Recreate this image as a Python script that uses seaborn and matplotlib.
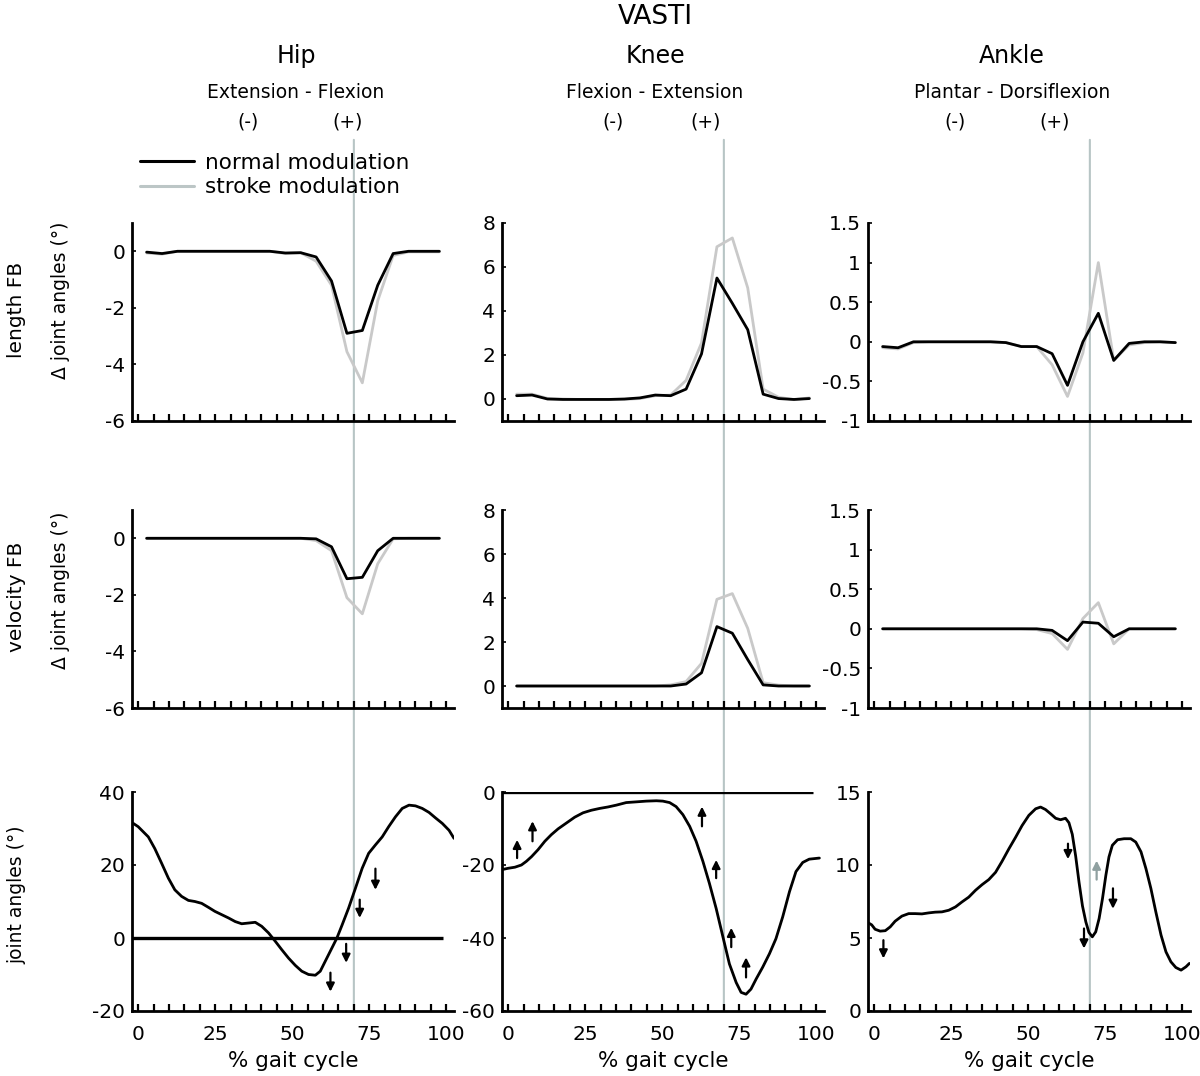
import matplotlib
matplotlib.use("Agg")
import matplotlib.pyplot as plt
import seaborn as sns
from matplotlib.patches import ConnectionPatch
from matplotlib.lines import Line2D
from matplotlib.ticker import FuncFormatter, FixedLocator

# ---- data ---------------------------------------------------------------
# bin centres of the feedback modulation (% gait cycle)
FB_PCT = [2.75, 7.75, 12.75, 17.75, 22.75, 27.75, 32.75, 37.75, 42.75, 47.75,
          52.75, 57.75, 62.75, 67.75, 72.75, 77.75, 82.75, 87.75, 92.75, 97.75]

HIP_LEN_NORMAL = [-0.03, -0.08, 0, 0, 0, 0, 0, 0, 0, -0.06,
                  -0.05, -0.2, -1.05, -2.9, -2.8, -1.2, -0.08, 0, 0, 0]
HIP_LEN_STROKE = [-0.06, -0.1, 0, 0, 0, 0, 0, 0, 0, -0.08,
                  -0.05, -0.35, -1.2, -3.55, -4.65, -1.75, -0.15, -0.02, -0.02, -0.02]
KNEE_LEN_NORMAL = [0.15, 0.18, 0.0, -0.02, -0.02, -0.02, -0.02, 0.0, 0.05, 0.18,
                   0.15, 0.45, 2.05, 5.5, 4.35, 3.15, 0.22, 0.02, -0.02, 0.02]
KNEE_LEN_STROKE = [0.22, 0.22, 0.03, 0, -0.02, -0.02, -0.02, -0.02, 0.02, 0.15,
                   0.18, 0.85, 2.55, 6.92, 7.32, 5.05, 0.45, 0.08, -0.03, 0.05]
ANKLE_LEN_NORMAL = [-0.06, -0.075, 0, 0, 0, 0, 0, 0, -0.01, -0.06,
                    -0.06, -0.15, -0.55, 0.0, 0.36, -0.235, -0.02, 0, 0, -0.01]
ANKLE_LEN_STROKE = [-0.075, -0.09, -0.01, 0, 0, 0, 0, 0, -0.01, -0.06,
                    -0.06, -0.29, -0.69, -0.14, 1.0, -0.235, -0.04, -0.01, 0, -0.01]

HIP_VEL_NORMAL = [0, 0, 0, 0, 0, 0, 0, 0, 0, 0,
                  0, -0.02, -0.3, -1.43, -1.38, -0.44, 0, 0, 0, 0]
HIP_VEL_STROKE = [0, 0, 0, 0, 0, 0, 0, 0, 0, 0,
                  0, -0.08, -0.44, -2.1, -2.67, -0.9, -0.02, 0, 0, 0]
KNEE_VEL_NORMAL = [0, 0, 0, 0, 0, 0, 0, 0, 0, 0,
                   0, 0.09, 0.6, 2.7, 2.4, 1.2, 0.05, 0, 0, 0]
KNEE_VEL_STROKE = [0, 0, 0, 0, 0, 0, 0, 0, 0, 0,
                   0.05, 0.2, 1.03, 3.94, 4.2, 2.62, 0.15, 0.04, 0, 0]
ANKLE_VEL_NORMAL = [0, 0, 0, 0, 0, 0, 0, 0, 0, 0,
                    0, -0.02, -0.15, 0.085, 0.07, -0.1, 0, 0, 0, 0]
ANKLE_VEL_STROKE = [0, 0, 0, 0, 0, 0, 0, 0, 0, 0,
                    -0.01, -0.06, -0.26, 0.13, 0.33, -0.19, 0, 0, 0, 0]

# joint angle trajectories
HIP_PCT = [-1.6, 0, 3.3, 5.4, 7.6, 9.8, 11.9, 14.1, 16.3, 18.4, 20.6, 22.8, 24.9,
           27.1, 29.3, 31.5, 33.6, 35.8, 38.0, 40.1, 42.3, 44.5, 46.6, 48.8, 51.0,
           53.1, 55.3, 57.5, 59.1, 60.7, 62.9, 64.5, 66.2, 68.3, 70.5, 72.7, 74.8,
           77.0, 79.2, 81.3, 83.5, 85.7, 87.9, 90.0, 92.2, 94.4, 96.5, 98.7, 100.9, 102.5]
HIP_ANGLE = [31.4, 30.5, 27.7, 24.5, 20.5, 16.4, 13.2, 11.4, 10.3, 10.0, 9.5, 8.4, 7.3,
             6.4, 5.5, 4.5, 3.9, 4.1, 4.3, 3.2, 1.4, -0.9, -3.2, -5.5, -7.5,
             -9.1, -10.0, -10.2, -9.1, -6.4, -2.7, 0.0, 3.6, 8.2, 13.6, 19.1, 23.2,
             25.5, 27.7, 30.5, 33.2, 35.5, 36.4, 36.2, 35.5, 34.4, 32.9, 31.4, 29.5, 27.3]

KNEE_PCT = [-2.2, 0, 2.2, 4.3, 5.9, 7.6, 9.7, 11.9, 14.0, 16.2, 18.9, 21.6, 24.3,
            27.0, 29.7, 32.4, 35.1, 38.3, 41.6, 44.8, 48.1, 50.2, 52.4, 54.5, 56.7,
            58.9, 61.0, 63.2, 65.3, 67.5, 69.7, 71.8, 74.0, 75.6, 77.2, 78.8, 80.5,
            82.6, 84.8, 86.9, 89.1, 91.3, 93.4, 95.6, 97.7, 101.0]
KNEE_ANGLE = [-21.3, -20.9, -20.6, -20.0, -19.0, -17.7, -15.8, -13.5, -11.7, -10.1, -8.5,
              -6.9, -5.7, -5.0, -4.5, -4.1, -3.6, -2.9, -2.7, -2.5, -2.4, -2.5, -2.9,
              -4.0, -6.2, -9.4, -13.5, -19.0, -25.0, -31.9, -39.7, -47.1, -52.2, -54.9,
              -55.4, -54.0, -51.2, -48.0, -44.3, -40.2, -34.2, -27.3, -21.8, -19.3,
              -18.4, -18.1]

ANKLE_PCT = [-2.4, -0.8, 0.3, 1.95, 3.6, 5.2, 6.8, 9.0, 11.2, 13.3, 15.5, 17.7, 19.8,
             22.0, 24.2, 26.4, 28.5, 30.7, 32.9, 35.0, 37.2, 39.4, 41.5, 43.7, 45.9,
             48.0, 50.2, 52.4, 54.0, 55.6, 57.3, 58.9, 60.5, 62.1, 63.2, 64.3, 65.4,
             66.5, 67.6, 68.7, 69.7, 70.8, 71.9, 73.0, 74.1, 75.2, 76.2, 77.3, 79.0,
             81.1, 83.3, 84.9, 86.6, 88.2, 89.8, 91.4, 93.1, 94.7, 96.3, 97.9, 99.6,
             101.2, 102.3]
ANKLE_ANGLE = [6.1, 5.9, 5.6, 5.47, 5.5, 5.76, 6.15, 6.5, 6.67, 6.67, 6.65, 6.72, 6.77,
               6.79, 6.9, 7.13, 7.47, 7.8, 8.27, 8.65, 9.0, 9.5, 10.25, 11.1, 11.9,
               12.7, 13.4, 13.85, 13.97, 13.8, 13.5, 13.2, 13.1, 13.2, 12.9, 12.1, 10.6,
               8.8, 7.2, 6.1, 5.38, 5.08, 5.42, 6.33, 7.7, 9.3, 10.55, 11.35, 11.73,
               11.8, 11.8, 11.57, 10.9, 9.75, 8.4, 6.8, 5.2, 4.05, 3.37, 2.98, 2.8,
               3.03, 3.26]

# arrows marking where the modulation acts (x, tail, head)
HIP_ARROW_X = [62.4, 67.5, 71.9, 77.0]
HIP_ARROW_TAIL = [-9.5, -1.6, 10.5, 19.0]
HIP_ARROW_HEAD = [-14.7, -6.8, 5.5, 13.2]
KNEE_ARROW_X = [2.9, 7.9, 62.9, 67.5, 72.4, 77.2]
KNEE_ARROW_TAIL = [-18.1, -13.5, -9.4, -23.6, -42.5, -50.8]
KNEE_ARROW_HEAD = [-13.1, -8.0, -4.0, -18.6, -37.2, -45.3]
ANKLE_ARROW_X = [3.0, 62.9, 68.1, 72.2, 77.5]
ANKLE_ARROW_TAIL = [4.85, 11.46, 5.65, 9.0, 8.4]
ANKLE_ARROW_HEAD = [3.6, 10.4, 4.28, 10.3, 7.0]
ANKLE_ARROW_GREY = [False, False, False, True, False]

TOE_OFF = 70
JOINTS = ["Hip", "Knee", "Ankle"]
DIRECTIONS = ["Extension - Flexion", "Flexion - Extension", "Plantar - Dorsiflexion"]
LEGEND_LABELS = ["normal modulation", "stroke modulation"]

FB_YLIM = [(-6, 1), (-1, 8), (-1, 1.5)]
FB_YTICKS = [[-6, -4, -2, 0], [0, 2, 4, 6, 8], [-1, -0.5, 0, 0.5, 1, 1.5]]
ANG_YLIM = [(-20, 40), (-60, 0), (0, 15)]
ANG_YTICKS = [[-20, 0, 20, 40], [-60, -40, -20, 0], [0, 5, 10, 15]]
X_MAJOR = [0, 25, 50, 75, 100]
X_MINOR = [5, 10, 15, 20, 30, 35, 40, 45, 55, 60, 65, 70, 80, 85, 90, 95]

# ---- style ---------------------------------------------------------------
sns.set_style("ticks")
plt.rcParams["font.family"] = ["DejaVu Sans"]
plt.rcParams["axes.unicode_minus"] = False
for key in ("text.color", "axes.labelcolor", "xtick.color", "ytick.color", "axes.edgecolor"):
    plt.rcParams[key] = "black"

BLACK = "#000000"
STROKE = "#c9c9c9"
STROKE_LEG = "#bcc6c6"
VLINE = "#b7c5c5"

W, H = 1200, 1076
fig = plt.figure(figsize=(W / 100, H / 100), dpi=100)
fig.patch.set_facecolor("white")


def add_ax(left, top, right, bottom):
    ax = fig.add_axes([left / W, 1 - bottom / H, (right - left) / W, (bottom - top) / H])
    ax.patch.set_alpha(0)
    return ax


COLS = [(132, 454), (502, 824), (868, 1190)]
ROWS = [(223, 421), (510, 708), (792, 1011)]
fmt = FuncFormatter(lambda v, p: f"{v:g}")


def style_ax(ax, ylim, yticks, bottom_row):
    ax.set_xlim(-2, 102.5)
    ax.set_ylim(*ylim)
    ax.yaxis.set_major_locator(FixedLocator(yticks))
    ax.yaxis.set_major_formatter(fmt)
    ax.xaxis.set_major_locator(FixedLocator(X_MAJOR))
    ax.xaxis.set_minor_locator(FixedLocator(X_MINOR))
    ax.xaxis.set_major_formatter(fmt)
    ax.tick_params(axis="x", which="both", direction="in", length=5, width=1.6,
                   labelsize=14.5, pad=10, labelbottom=bottom_row)
    ax.tick_params(axis="y", which="both", direction="in", length=3, width=1.2,
                   labelsize=14.5, pad=5)
    sns.despine(ax=ax)
    for s in ("left", "bottom"):
        ax.spines[s].set_linewidth(2)
    ax.set_xlabel("")
    ax.set_ylabel("")


fb_rows = [
    [(HIP_LEN_NORMAL, HIP_LEN_STROKE), (KNEE_LEN_NORMAL, KNEE_LEN_STROKE),
     (ANKLE_LEN_NORMAL, ANKLE_LEN_STROKE)],
    [(HIP_VEL_NORMAL, HIP_VEL_STROKE), (KNEE_VEL_NORMAL, KNEE_VEL_STROKE),
     (ANKLE_VEL_NORMAL, ANKLE_VEL_STROKE)],
]
angles = [(HIP_PCT, HIP_ANGLE), (KNEE_PCT, KNEE_ANGLE), (ANKLE_PCT, ANKLE_ANGLE)]
arrows = [
    (HIP_ARROW_X, HIP_ARROW_TAIL, HIP_ARROW_HEAD, [False] * 4),
    (KNEE_ARROW_X, KNEE_ARROW_TAIL, KNEE_ARROW_HEAD, [False] * 6),
    (ANKLE_ARROW_X, ANKLE_ARROW_TAIL, ANKLE_ARROW_HEAD, ANKLE_ARROW_GREY),
]

axes = [[None] * 3 for _ in range(3)]
for r in range(2):
    for c in range(3):
        ax = add_ax(COLS[c][0], ROWS[r][0], COLS[c][1], ROWS[r][1])
        normal, stroke = fb_rows[r][c]
        sns.lineplot(x=FB_PCT, y=stroke, ax=ax, color=STROKE, lw=2.0, sort=False)
        sns.lineplot(x=FB_PCT, y=normal, ax=ax, color=BLACK, lw=2.0, sort=False)
        style_ax(ax, FB_YLIM[c], FB_YTICKS[c], False)
        axes[r][c] = ax

for c in range(3):
    ax = add_ax(COLS[c][0], ROWS[2][0], COLS[c][1], ROWS[2][1])
    pct, ang = angles[c]
    if c < 2:
        ax.hlines(0, -2, 99, color=BLACK, lw=2.4)
    sns.lineplot(x=pct, y=ang, ax=ax, color=BLACK, lw=2.0, sort=False)
    xs, tails, heads, grey = arrows[c]
    for x, t, h, g in zip(xs, tails, heads, grey):
        ax.annotate("", xy=(x, h), xytext=(x, t),
                    arrowprops=dict(arrowstyle="-|>", color="#8fa0a0" if g else BLACK,
                                    lw=1.6, mutation_scale=12, shrinkA=0, shrinkB=0))
    style_ax(ax, ANG_YLIM[c], ANG_YTICKS[c], True)
    ax.set_xlabel("% gait cycle", fontsize=15.5, labelpad=5)
    axes[2][c] = ax

# toe-off reference line running through all rows of a column
for c in range(3):
    con = ConnectionPatch(xyA=(TOE_OFF, 1.42), coordsA=axes[0][c].get_xaxis_transform(),
                          xyB=(TOE_OFF, 0), coordsB=axes[2][c].get_xaxis_transform(),
                          color=VLINE, lw=1.5, zorder=-1)
    fig.add_artist(con)

# headers
fig.text(655 / W, 1 - 17 / H, "VASTI", ha="center", va="center", fontsize=19)
col_centres = [296, 655, 1012]
minus_x = [248, 613, 955]
plus_x = [348, 706, 1055]
for c in range(3):
    fig.text(col_centres[c] / W, 1 - 56 / H, JOINTS[c], ha="center", va="center", fontsize=17)
    fig.text(col_centres[c] / W, 1 - 93 / H, DIRECTIONS[c], ha="center", va="center", fontsize=13.5)
    fig.text(minus_x[c] / W, 1 - 122 / H, "(-)", ha="center", va="center", fontsize=13.5)
    fig.text(plus_x[c] / W, 1 - 122 / H, "(+)", ha="center", va="center", fontsize=13.5)

# row labels
fig.text(17 / W, 1 - 310 / H, "length FB", rotation=90, ha="center", va="center", fontsize=14.5)
fig.text(60 / W, 1 - 300 / H, "Δ joint angles (°)", rotation=90, ha="center", va="center", fontsize=13.5)
fig.text(17 / W, 1 - 597 / H, "velocity FB", rotation=90, ha="center", va="center", fontsize=14.5)
fig.text(60 / W, 1 - 590 / H, "Δ joint angles (°)", rotation=90, ha="center", va="center", fontsize=13.5)
fig.text(17 / W, 1 - 895 / H, "joint angles (°)", rotation=90, ha="center", va="center", fontsize=13.5)

handles = [Line2D([], [], color=BLACK, lw=2.2), Line2D([], [], color=STROKE_LEG, lw=2.2)]
fig.legend(handles, LEGEND_LABELS, loc="upper left", bbox_to_anchor=(140 / W, 1 - 153 / H),
           frameon=False, fontsize=15.5, handlelength=2.5, handletextpad=0.5,
           labelspacing=0.2, borderpad=0, borderaxespad=0)

fig.savefig("out.png", dpi=100, facecolor="white")
